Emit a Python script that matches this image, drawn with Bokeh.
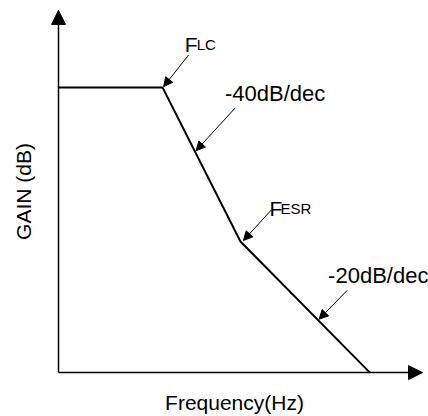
import math
from bokeh.plotting import figure
from bokeh.models import Arrow, NormalHead, Label, Range1d, FixedTicker
from bokeh.embed import file_html
from bokeh.resources import INLINE

# ---- data ----
freq_hz = [100, 1100, 6600, 130000]        # axis start, F_LC, F_ESR, end
gain_db = [20, 20, -11.1, -37.6]
corner_main = ["F", "F"]
corner_subs = ["LC", "ESR"]
slope_texts = ["-40dB/dec", "-20dB/dec"]
x_title = "Frequency(Hz)"
y_title = "GAIN (dB)"

# ---- layout ----
W, H = 428, 416
B_LEFT, B_BOTTOM = 40, 30
frame_w, frame_h = W - B_LEFT, H - B_BOTTOM
px_per_dec = 100.0
px_per_db = 5.0
AXIS_X_PX = 18          # y-axis sits this many px right of the frame edge
AXIS_Y_PX = 10          # x-axis sits this many px above the frame bottom
x_axis_pos = freq_hz[0]
y_axis_pos = -37.6
x_lo = x_axis_pos * 10 ** (-AXIS_X_PX / px_per_dec)
x_hi = x_lo * 10 ** (frame_w / px_per_dec)
y_lo = y_axis_pos - AXIS_Y_PX / px_per_db
y_hi = y_lo + frame_h / px_per_db
x_tip = x_lo * 10 ** ((frame_w - 6) / px_per_dec)
y_tip = y_hi - 10 / px_per_db
FONT = "Liberation Sans"
TEXT_LIFT = 5

p = figure(width=W, height=H, x_axis_type="log",
           x_range=Range1d(x_lo, x_hi), y_range=Range1d(y_lo, y_hi),
           output_backend="svg", toolbar_location=None,
           min_border_left=B_LEFT, min_border_right=0,
           min_border_top=0, min_border_bottom=B_BOTTOM)
p.outline_line_color = None
p.grid.visible = False
p.background_fill_color = "white"
p.border_fill_color = "white"

for ax in (p.xaxis[0], p.yaxis[0]):
    ax.ticker = FixedTicker(ticks=[], minor_ticks=[])
    ax.axis_line_color = None
    ax.major_tick_out = 0
    ax.major_tick_in = 0
    ax.minor_tick_out = 0
    ax.minor_tick_in = 0
    ax.major_label_standoff = 0
    ax.axis_label_text_font = FONT
    ax.axis_label_text_font_size = "21px"
    ax.axis_label_text_font_style = "normal"
    ax.axis_label_text_color = "black"
p.xaxis.axis_label = x_title
p.yaxis.axis_label = y_title
p.xaxis.axis_label_standoff = 8
p.yaxis.axis_label_standoff = 6

# response curve
p.line(freq_hz, gain_db, line_width=2, line_color="black")

# axes arrows
p.add_layout(Arrow(end=NormalHead(size=14, fill_color="black", line_color="black", line_width=1),
                   x_start=x_axis_pos, y_start=y_axis_pos, x_end=x_axis_pos, y_end=y_tip,
                   line_width=1.5, line_color="black"))
p.add_layout(Arrow(end=NormalHead(size=14, fill_color="black", line_color="black", line_width=1),
                   x_start=x_axis_pos, y_start=y_axis_pos, x_end=x_tip, y_end=y_axis_pos,
                   line_width=1.5, line_color="black"))


def along(i, t):
    lx = math.log10(freq_hz[i]) + t * (math.log10(freq_hz[i + 1]) - math.log10(freq_hz[i]))
    return 10 ** lx, gain_db[i] + t * (gain_db[i + 1] - gain_db[i])


def shift(x, y, dx, dy):
    return x * 10 ** (dx / px_per_dec), y + dy / px_per_db


def pointer(tip, dx, dy):
    sx, sy = shift(tip[0], tip[1], dx, dy)
    p.add_layout(Arrow(end=NormalHead(size=9, fill_color="black", line_color="black", line_width=1),
                       x_start=sx, y_start=sy, x_end=tip[0], y_end=tip[1],
                       line_width=1, line_color="black"))


def label(tip, dx, dy, text, size):
    p.add_layout(Label(x=tip[0], y=tip[1], x_offset=dx, y_offset=dy + TEXT_LIFT, text=text,
                       text_font=FONT, text_font_size=size, text_color="black",
                       text_align="left", text_baseline="alphabetic"))


# F_LC
t_lc = shift(freq_hz[1], gain_db[1], 1, 1)
pointer(t_lc, 25, 32)
label(t_lc, 21, 37, corner_main[0], "21px")
label(t_lc, 33, 37, corner_subs[0], "15px")

# -40 dB/dec
t40 = shift(*along(1, 0.41), 1.5, 0)
pointer(t40, 39, 43)
label(t40, 29, 52, slope_texts[0], "22px")

# F_ESR
t_esr = shift(freq_hz[2], gain_db[2], 3, 1)
pointer(t_esr, 28, 31)
label(t_esr, 26, 27, corner_main[1], "21px")
label(t_esr, 37, 27, corner_subs[1], "15px")

# -20 dB/dec
t20 = shift(*along(2, 0.6), 1, 1)
pointer(t20, 28, 29)
label(t20, 9, 39, slope_texts[1], "22px")

open("out.html", "w").write(file_html(p, INLINE))
